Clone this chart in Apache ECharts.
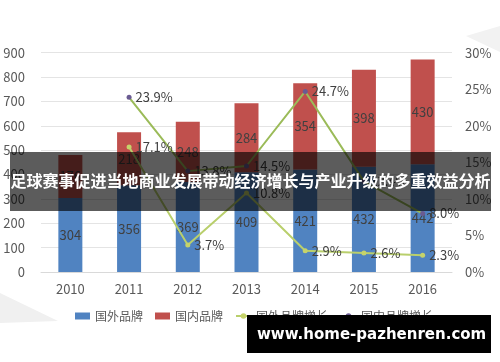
<!DOCTYPE html>
<html><head><meta charset="utf-8">
<script src="https://cdn.jsdelivr.net/npm/echarts@6/dist/echarts.min.js"></script>
<style>html,body{margin:0;padding:0;background:#fff}#c{width:500px;height:362px}</style>
</head><body><div id="c"></div>
<script>
const years = ['2010','2011','2012','2013','2014','2015','2016'];
const foreignBrand = [304, 356, 369, 409, 421, 432, 442];
const domesticBrand = [176, 218, 248, 284, 354, 398, 430];
const foreignGrowth = ['-', 17.1, 3.7, 10.8, 2.9, 2.6, 2.3];
const domesticGrowth = ['-', 23.9, 13.8, 14.5, 24.7, 12.4, 8.0];
const leftTicks = {min: 0, max: 900, interval: 100};
const rightTicks = {min: 0, max: 30, interval: 5};
const bannerTitle = '足球赛事促进当地商业发展带动经济增长与产业升级的多重效益分析';
const watermark = 'www.home-pazhenren.com';

const FONT = '"Noto Sans CJK SC", "Noto Sans", sans-serif';
const chart = echarts.init(document.getElementById('c'), null, {renderer: 'canvas'});
const lineLabel = {show: true, position: 'right', distance: 4, color: '#404040', fontSize: 13, fontFamily: FONT,
  formatter: p => p.value.toFixed(1) + '%'};
chart.setOption({
  animation: false,
  textStyle: {fontFamily: FONT},
  grid: {left: 41, right: 48, top: 52.7, bottom: 90},
  legend: {
    left: 70, top: 305, itemWidth: 15, itemHeight: 7, itemGap: 12,
    textStyle: {fontSize: 12, color: '#595959', fontFamily: FONT},
    data: [
      {name: '国外品牌', icon: 'rect'},
      {name: '国内品牌', icon: 'rect'},
      {name: '国外品牌增长'},
      {name: '国内品牌增长'}
    ]
  },
  xAxis: {
    type: 'category', data: years,
    axisLine: {lineStyle: {color: '#D9D9D9'}}, axisTick: {show: false},
    axisLabel: {color: '#595959', fontSize: 13, margin: 11}
  },
  yAxis: [
    {type: 'value', min: leftTicks.min, max: leftTicks.max, interval: leftTicks.interval,
     axisLabel: {color: '#595959', fontSize: 13, margin: 16},
     splitLine: {lineStyle: {color: '#E4E4E4'}}, axisLine: {show: false}, axisTick: {show: false}},
    {type: 'value', min: rightTicks.min, max: rightTicks.max, interval: rightTicks.interval,
     axisLabel: {color: '#595959', fontSize: 13, margin: 13, formatter: '{value}%'},
     splitLine: {show: false}, axisLine: {show: false}, axisTick: {show: false}}
  ],
  series: [
    {name: '国外品牌', type: 'bar', stack: 'b', data: foreignBrand, barWidth: 24,
     itemStyle: {color: '#5083C1'},
     label: {show: true, position: 'inside', color: '#404040', fontSize: 13}},
    {name: '国内品牌', type: 'bar', stack: 'b', data: domesticBrand, barWidth: 24,
     itemStyle: {color: '#C0504D'},
     label: {show: true, position: 'inside', color: '#404040', fontSize: 13}},
    {name: '国外品牌增长', type: 'line', yAxisIndex: 1, data: foreignGrowth,
     symbol: 'circle', symbolSize: 5, lineStyle: {color: '#B9CF6C', width: 2},
     itemStyle: {color: '#C6D36A'}, label: lineLabel, z: 5},
    {name: '国内品牌增长', type: 'line', yAxisIndex: 1, data: domesticGrowth,
     symbol: 'circle', symbolSize: 5, lineStyle: {color: '#9BBB59', width: 2},
     itemStyle: {color: '#6A5B92'}, label: lineLabel, z: 5}
  ],
  graphic: [
    {type: 'polygon', z: -10, shape: {points: [[0,293],[58,321],[0,323]]}, style: {fill: '#F0F0F0'}},
    {type: 'polygon', z: -10, shape: {points: [[466,36],[500,26],[500,52]]}, style: {fill: '#F2F2F2'}},
    {type: 'rect', z: 100, shape: {x: 10, y: 152, width: 481, height: 59}, style: {fill: 'rgba(0,0,0,0.64)'}},
    {type: 'text', z: 101, x: 250.5, y: 181,
     style: {text: bannerTitle, fill: '#fff', fontSize: 16, fontWeight: 'bold',
             fontFamily: '"Noto Sans CJK SC"', align: 'center', verticalAlign: 'middle'}},
    {type: 'rect', z: 100, shape: {x: 247, y: 315, width: 244, height: 38}, style: {fill: '#000'}},
    {type: 'text', z: 101, x: 257, y: 335,
     style: {text: watermark, fill: '#fff', fontSize: 15, fontWeight: 'bold',
             fontFamily: '"DejaVu Sans"', verticalAlign: 'middle'}}
  ]
});
</script></body></html>
